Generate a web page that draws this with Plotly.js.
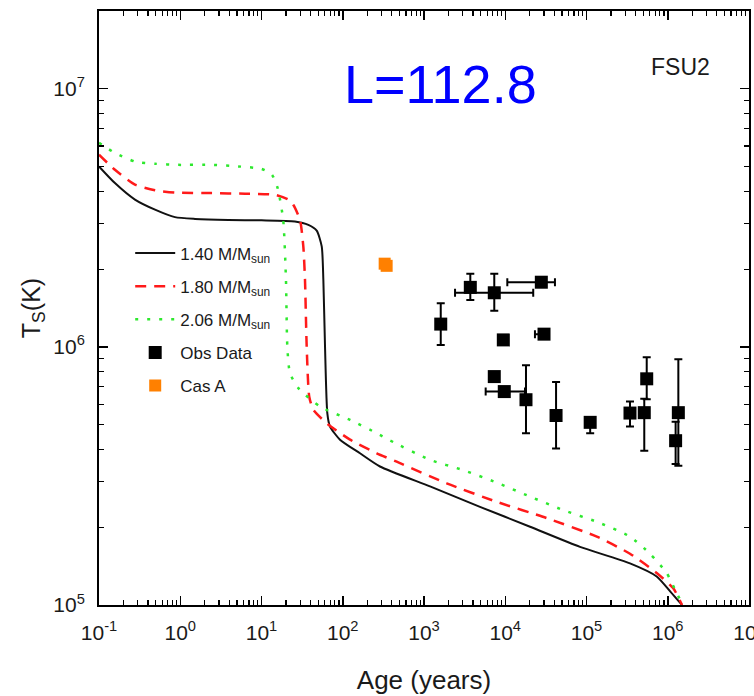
<!DOCTYPE html>
<html><head><meta charset="utf-8">
<script src="https://cdn.plot.ly/plotly-3.0.1.min.js"></script>
<style>html,body{margin:0;padding:0;overflow:hidden;background:#fff;} #chart{width:790px;height:696px;}</style>
</head><body><div id="chart"></div>
<script>
// ---- data (age in years, surface temperature in K) ----
const ageM140 = [0.1, 0.157, 0.277, 0.489, 0.861, 1.52, 3.90, 10.0, 25.8, 37.7, 47.8, 55.1, 57.7, 60.5, 64.6, 69.7, 92.5, 163, 287, 1186, 4887, 2.02e4, 8.32e4, 3.43e5, 7.31e5, 1.07e6, 1.50e6];
const tempM140 = [5.0e6, 4.31e6, 3.72e6, 3.40e6, 3.18e6, 3.13e6, 3.10e6, 3.09e6, 3.06e6, 2.97e6, 2.82e6, 2.45e6, 1.82e6, 1.00e6, 5.53e5, 4.91e5, 4.37e5, 3.87e5, 3.44e5, 2.88e5, 2.40e5, 2.01e5, 1.68e5, 1.45e5, 1.29e5, 1.13e5, 1.00e5];

const ageM180 = [0.1, 0.157, 0.277, 0.489, 0.861, 2.44, 6.27, 14.7, 21.4, 24.6, 29.8, 32.7, 34.3, 36.0, 38.7, 43.5, 63.4, 123, 262, 461, 1901, 7852, 3.24e4, 1.34e5, 3.43e5, 7.31e5, 1.17e6, 1.50e6];
const tempM180 = [5.55e6, 4.85e6, 4.25e6, 4.04e6, 3.96e6, 3.94e6, 3.92e6, 3.88e6, 3.72e6, 3.55e6, 3.10e6, 2.45e6, 1.82e6, 1.00e6, 6.41e5, 5.70e5, 5.06e5, 4.37e5, 3.87e5, 3.59e5, 2.96e5, 2.51e5, 2.17e5, 1.84e5, 1.58e5, 1.33e5, 1.16e5, 1.00e5];

const ageM206 = [0.1, 0.157, 0.277, 0.489, 0.946, 2.44, 5.18, 10.0, 13.4, 15.8, 18.5, 20.0, 20.8, 22.4, 28.4, 52.5, 123, 262, 382, 1186, 3048, 7852, 2.02e4, 5.19e4, 1.34e5, 3.43e5, 6.05e5, 9.70e5, 1.29e6, 1.49e6];
const tempM206 = [6.17e6, 5.64e6, 5.22e6, 5.12e6, 5.07e6, 5.07e6, 5.00e6, 4.89e6, 4.65e6, 4.12e6, 3.10e6, 1.82e6, 1.00e6, 7.91e5, 6.92e5, 5.87e5, 5.21e5, 4.63e5, 4.34e5, 3.65e5, 3.33e5, 2.98e5, 2.63e5, 2.33e5, 2.10e5, 1.84e5, 1.58e5, 1.33e5, 1.11e5, 1.02e5];

const obsAge     = [1607, 3715, 7328, 2.78e4, 9464, 3.0e4, 7328, 9727, 1.80e4, 4.22e4, 1.11e5, 3.43e5, 5.14e5, 5.51e5, 1.35e6, 1.25e6];
const obsAgeLow  = [null, null, 2410, 1.06e4, null, 2.32e4, null, 5741, null, null, null, null, null, null, null, null];
const obsAgeHigh = [null, null, 2.21e4, 4.09e4, null, null, null, 1.75e4, null, null, null, null, null, null, null, null];
const obsT       = [1.225e6, 1.70e6, 1.62e6, 1.78e6, 1.064e6, 1.12e6, 7.67e5, 6.71e5, 6.24e5, 5.42e5, 5.10e5, 5.54e5, 5.56e5, 7.52e5, 5.56e5, 4.33e5];
const obsTHigh   = [1.476e6, 1.92e6, 1.92e6, null, null, null, null, null, 8.49e5, 7.31e5, null, 6.14e5, 6.3e5, 9.12e5, 8.96e5, 5.13e5];
const obsTLow    = [1.016e6, 1.52e6, 1.38e6, null, null, null, null, null, 4.63e5, 4.04e5, 4.63e5, 4.91e5, 3.96e5, 6.27e5, 3.46e5, 3.52e5];

const casAge = [328, 347];
const casT   = [2.10e6, 2.06e6];

const xTickVals = [0.1, 1, 10, 100, 1e3, 1e4, 1e5, 1e6, 1e7];
const xTickText = ['10<sup>-1</sup>', '10<sup>0</sup>', '10<sup>1</sup>', '10<sup>2</sup>', '10<sup>3</sup>', '10<sup>4</sup>', '10<sup>5</sup>', '10<sup>6</sup>', '10<sup>7</sup>'];
const yTickVals = [1e5, 1e6, 1e7];
const yTickText = ['10<sup>5</sup>', '10<sup>6</sup>', '10<sup>7</sup>'];

// ---- helpers ----
const up = (hi, v) => hi.map((h, i) => h == null ? NaN : h - v[i]);
const dn = (lo, v) => lo.map((l, i) => l == null ? NaN : v[i] - l);
function minorTicks(startExp, endExp) {
  const out = [];
  for (let e = startExp; e < endExp; e++) for (let m = 2; m <= 9; m++) out.push(m * Math.pow(10, e));
  return out;
}

const FONT = 'Liberation Sans, Arial, sans-serif';

const traces = [
  {x: ageM140, y: tempM140, type: 'scatter', mode: 'lines', name: '1.40 M/M<sub>sun</sub>', legendgroup: 'a',
   line: {color: '#111111', width: 2, shape: 'spline', smoothing: 0.6}},
  {x: ageM180, y: tempM180, type: 'scatter', mode: 'lines', name: '1.80 M/M<sub>sun</sub>', legendgroup: 'b',
   line: {color: '#ff1a1a', width: 2.5, dash: '11px,8px', shape: 'spline', smoothing: 0.6}},
  {x: ageM206, y: tempM206, type: 'scatter', mode: 'lines', name: '2.06 M/M<sub>sun</sub>', legendgroup: 'c',
   line: {color: '#2ee82e', width: 2.5, dash: '3px,9px', shape: 'spline', smoothing: 0.6}},
  {x: obsAge, y: obsT, type: 'scatter', mode: 'markers', name: 'Obs Data', legendgroup: 'd',
   marker: {symbol: 'square', size: 13, color: '#000000'},
   error_y: {type: 'data', symmetric: false, array: up(obsTHigh, obsT), arrayminus: dn(obsTLow, obsT), color: '#000', thickness: 2, width: 4},
   error_x: {type: 'data', symmetric: false, array: up(obsAgeHigh, obsAge), arrayminus: dn(obsAgeLow, obsAge), color: '#000', thickness: 2, width: 4}},
  {x: casAge, y: casT, type: 'scatter', mode: 'markers', name: 'Cas A', legendgroup: 'e',
   marker: {symbol: 'square', size: 12, color: '#ff8000'}}
];

const axisCommon = {
  type: 'log', showgrid: false, zeroline: false, showline: true, linecolor: '#000', linewidth: 2,
  mirror: 'allticks', ticks: 'inside', ticklen: 9, tickwidth: 1.5, tickcolor: '#000',
  tickmode: 'array', tickfont: {family: FONT, size: 21, color: '#1a1a1a'}
};

const layout = {
  width: 790, height: 696,
  margin: {l: 99, r: 41, t: 11, b: 91},
  paper_bgcolor: '#fff', plot_bgcolor: '#fff',
  font: {family: FONT, color: '#1a1a1a'},
  xaxis: Object.assign({}, axisCommon, {
    range: [-1, 7], tickvals: xTickVals, ticktext: xTickText, ticklabelstandoff: 8,
    minor: {tickmode: 'array', tickvals: minorTicks(-1, 7), ticks: 'inside', ticklen: 5, tickwidth: 1.2, tickcolor: '#000', showgrid: false},
    title: {text: 'Age (years)', font: {family: FONT, size: 26, color: '#1a1a1a'}, standoff: 28}
  }),
  yaxis: Object.assign({}, axisCommon, {
    range: [5, 7.301], tickvals: yTickVals, ticktext: yTickText, ticklabelstandoff: 8,
    minor: {tickmode: 'array', tickvals: minorTicks(5, 7), ticks: 'inside', ticklen: 5, tickwidth: 1.2, tickcolor: '#000', showgrid: false},
    title: {text: 'T<sub>S</sub>(K)', font: {family: FONT, size: 25, color: '#1a1a1a'}, standoff: 6}
  }),
  showlegend: true,
  legend: {x: 0.048, y: 0.622, xanchor: 'left', yanchor: 'top', bgcolor: 'rgba(0,0,0,0)', borderwidth: 0,
           font: {family: FONT, size: 17, color: '#1a1a1a'}, tracegroupgap: 8, traceorder: 'grouped', itemwidth: 40},
  annotations: [
    {text: 'L=112.8', xref: 'paper', yref: 'paper', x: 0.525, y: 0.877, xanchor: 'center', yanchor: 'middle', showarrow: false,
     font: {family: 'Liberation Sans, Arial, sans-serif', size: 54, color: '#0000ff'}},
    {text: 'FSU2', xref: 'paper', yref: 'paper', x: 0.895, y: 0.905, xanchor: 'center', yanchor: 'middle', showarrow: false,
     font: {family: FONT, size: 23, color: '#1a1a1a'}}
  ]
};

Plotly.newPlot('chart', traces, layout, {displayModeBar: false, staticPlot: true});
</script>
</body></html>
